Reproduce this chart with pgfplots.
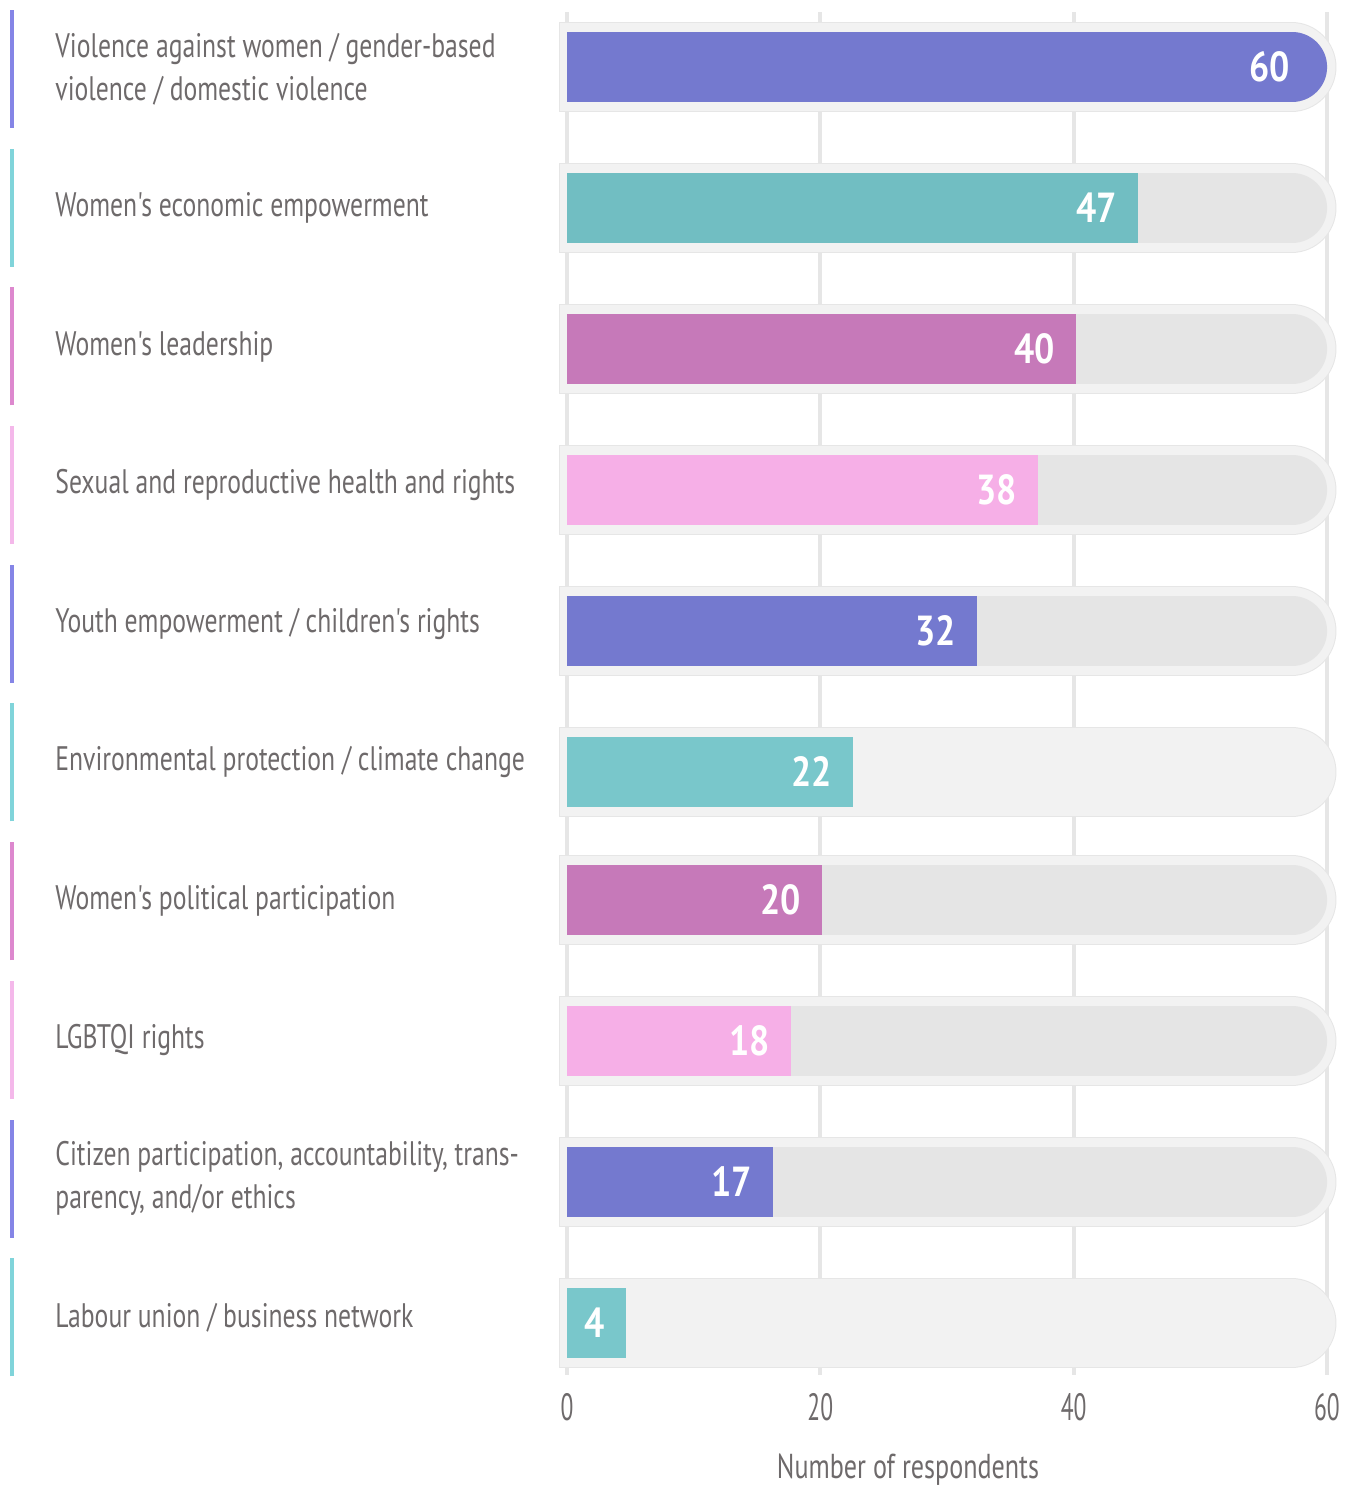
\documentclass[border=0pt]{standalone}
\usepackage{pgfplots}
\pgfplotsset{compat=1.18}
\usepackage{fontspec}
\setmainfont{PT Sans}[FakeStretch=0.755, Ligatures=TeXOff]
\newfontfamily\tickfont{PT Sans}[FakeStretch=0.62, Ligatures=TeXOff]
\newfontfamily\valfamily{PT Sans}[FakeStretch=0.85, Ligatures=TeXOff]

\definecolor{cpurple}{HTML}{7479CF}
\definecolor{cteal}{HTML}{71BEC2}
\definecolor{ctealL}{HTML}{79C7CB}
\definecolor{cmagenta}{HTML}{C679B9}
\definecolor{cpink}{HTML}{F6AFE7}
\definecolor{trackin}{HTML}{E5E5E5}
\definecolor{trackout}{HTML}{F2F2F2}
\definecolor{trackedge}{HTML}{E6E6E6}
\definecolor{gridc}{HTML}{E6E6E6}
\definecolor{txt}{HTML}{6E6A6B}
\definecolor{lpurple}{HTML}{8585E6}
\definecolor{lteal}{HTML}{80D4DA}
\definecolor{lmagenta}{HTML}{DD88CE}
\definecolor{lpink}{HTML}{F4B8EA}

\newcommand{\labelfont}{\fontsize{17}{21.5}\selectfont}
\newcommand{\valfont}{\valfamily\bfseries\fontsize{21}{21}\selectfont}

% grey tracks: square left end, round right end (second line's left cap hides in the first)
\newcommand{\outertrack}[1]{%
  \addplot[draw=trackedge, line width=45pt] coordinates {(-0.6,#1) (57.2,#1)};
  \addplot[draw=trackedge, line width=45pt, line cap=round] coordinates {(20,#1) (57.2,#1)};
  \addplot[draw=trackout, line width=44pt] coordinates {(-0.55,#1) (57.2,#1)};
  \addplot[draw=trackout, line width=44pt, line cap=round] coordinates {(20,#1) (57.2,#1)};}
\newcommand{\innertrack}[1]{%
  \addplot[draw=trackin, line width=35pt] coordinates {(0,#1) (57.25,#1)};
  \addplot[draw=trackin, line width=35pt, line cap=round] coordinates {(20,#1) (57.25,#1)};}
% value bar: y, length, colour, label
\newcommand{\valbar}[4]{\addplot[xbar, bar width=35pt, bar shift=0pt, fill=#3, draw=none, nodes near coords, point meta=explicit symbolic, every node near coord/.append style={anchor=east, xshift=-10.5pt, inner sep=0pt, text=white, font=\valfont}] coordinates {(#2,#1) [#4]};}

\begin{document}
\begin{tikzpicture}
\path[use as bounding box] (0,0) rectangle (676.5pt,744.5pt);
\begin{axis}[
  at={(280pt,57pt)}, anchor=south west,
  scale only axis, width=389.8pt, height=681.5pt,
  xmin=-0.55, xmax=61, ymin=114, ymax=1477,
  clip=false,
  axis line style={draw=none},
  major tick length=0pt,
  xtick={0,20,40,60},
  xmajorgrids, grid style={gridc, line width=2pt},
  ytick={171.7,310.4,449.1,587.8,726.5,865.2,1003.9,1142.6,1281.3,1420},
  yticklabels={
    {Labour union / business network},
    {Citizen participation, accountability, trans-\\parency, and/or ethics},
    {LGBTQI rights},
    {Women's political participation},
    {Environmental protection / climate change},
    {Youth empowerment / children's rights},
    {Sexual and reproductive health and rights},
    {Women's leadership},
    {Women's economic empowerment},
    {Violence against women / gender-based\\violence / domestic violence}},
  yticklabel style={anchor=west, xshift=-252.5pt, align=left, inner sep=0pt, font=\labelfont, text=txt},
  /pgf/number format/assume math mode=true,
  xticklabel style={anchor=center, yshift=-16pt, inner sep=0pt, font=\tickfont\fontsize{19}{19}\selectfont, text=txt},
  xlabel={Number of respondents},
  xlabel style={at={(axis description cs:0.4464,0)}, anchor=center, yshift=-47.5pt, font=\fontsize{17.3}{17.3}\selectfont, text=txt},
]
% tracks
\outertrack{1422}\innertrack{1422}
\outertrack{1281}\innertrack{1281}
\outertrack{1140}\innertrack{1140}
\outertrack{999}\innertrack{999}
\outertrack{858}\innertrack{858}
\outertrack{717}
\outertrack{589}\innertrack{589}
\outertrack{448}\innertrack{448}
\outertrack{307}\innertrack{307}
\outertrack{166}

% first bar is full, with a round end
\addplot[draw=cpurple, line width=35pt, line cap=round] coordinates {(30,1422) (57.25,1422)};
\addplot[xbar, bar width=35pt, bar shift=0pt, fill=cpurple, draw=none, nodes near coords, point meta=explicit symbolic, every node near coord/.append style={anchor=east, xshift=-1pt, inner sep=0pt, text=white, font=\valfont}] coordinates {(57.25,1422) [60]};

\valbar{1281}{45.08}{cteal}{47}
\valbar{1140}{40.18}{cmagenta}{40}
\valbar{999}{37.18}{cpink}{38}
\valbar{858}{32.37}{cpurple}{32}
\valbar{717}{22.58}{ctealL}{22}
\valbar{589}{20.13}{cmagenta}{20}
\valbar{448}{17.68}{cpink}{18}
\valbar{307}{16.26}{cpurple}{17}
\valbar{166}{4.66}{ctealL}{4}

% coloured marks left of the labels
\draw[line width=2pt, lpurple] (axis cs:-43.8,1361) -- (axis cs:-43.8,1479);
\draw[line width=2pt, lteal] (axis cs:-43.8,1222.3) -- (axis cs:-43.8,1340.3);
\draw[line width=2pt, lmagenta] (axis cs:-43.8,1083.6) -- (axis cs:-43.8,1201.6);
\draw[line width=2pt, lpink] (axis cs:-43.8,944.9) -- (axis cs:-43.8,1062.9);
\draw[line width=2pt, lpurple] (axis cs:-43.8,806.2) -- (axis cs:-43.8,924.2);
\draw[line width=2pt, lteal] (axis cs:-43.8,667.5) -- (axis cs:-43.8,785.5);
\draw[line width=2pt, lmagenta] (axis cs:-43.8,528.8) -- (axis cs:-43.8,646.8);
\draw[line width=2pt, lpink] (axis cs:-43.8,390.1) -- (axis cs:-43.8,508.1);
\draw[line width=2pt, lpurple] (axis cs:-43.8,251.4) -- (axis cs:-43.8,369.4);
\draw[line width=2pt, lteal] (axis cs:-43.8,112.7) -- (axis cs:-43.8,230.7);
\end{axis}
\end{tikzpicture}
\end{document}
